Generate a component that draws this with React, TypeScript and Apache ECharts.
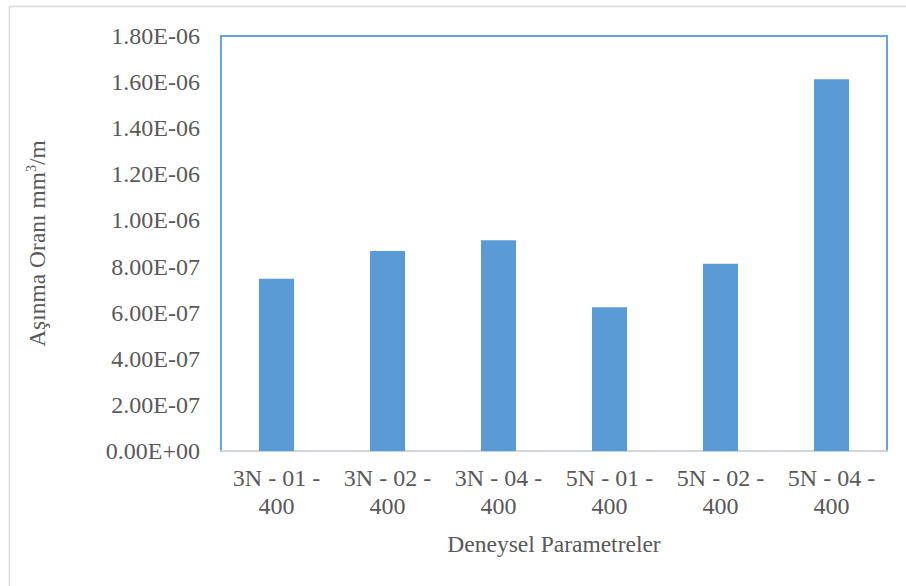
import React, { useEffect, useRef } from "react";
import * as echarts from "echarts";

// Wear rate per test parameter set (mm³/m)
const categories = [
  "3N - 01 -\n400",
  "3N - 02 -\n400",
  "3N - 04 -\n400",
  "5N - 01 -\n400",
  "5N - 02 -\n400",
  "5N - 04 -\n400",
];
const wearRate = [7.47e-7, 8.67e-7, 9.14e-7, 6.23e-7, 8.12e-7, 1.612e-6];

const yMin = 0;
const yMax = 1.8e-6;
const yStep = 2e-7;

const FONT = "Liberation Serif";
const TEXT = "#595959";
const BAR = "#5B9BD5";

// Excel-style scientific notation, e.g. 8.00E-07
function sci(v: number): string {
  if (Math.abs(v) < 1e-15) return "0.00E+00";
  const [m, e] = v.toExponential(2).split("e");
  const exp = parseInt(e, 10);
  const sign = exp < 0 ? "-" : "+";
  const digits = String(Math.abs(exp)).padStart(2, "0");
  return `${m}E${sign}${digits}`;
}

export default function App() {
  const ref = useRef<HTMLDivElement>(null);

  useEffect(() => {
    if (!ref.current) return;
    const chart = echarts.init(ref.current, undefined, { renderer: "svg" });
    chart.setOption({
      animation: false,
      backgroundColor: "#ffffff",
      textStyle: { fontFamily: FONT },
      graphic: [
        {
          type: "rect",
          shape: { x: 9.5, y: 6.5, width: 1000, height: 700 },
          style: { fill: "none", stroke: "#d9d9d9", lineWidth: 1.5 },
          silent: true,
          z: -1,
        },
      ],
      grid: {
        left: 221,
        right: 19,
        top: 36,
        bottom: 135,
        show: true,
        borderColor: "#6aa2da",
        borderWidth: 2,
        backgroundColor: "transparent",
      },
      xAxis: {
        type: "category",
        data: categories,
        name: "Deneysel Parametreler",
        nameLocation: "middle",
        nameGap: 81,
        nameTextStyle: { fontFamily: FONT, fontSize: 23.5, color: TEXT },
        axisLine: { show: true, lineStyle: { color: "#d0d5dc", width: 2 } },
        axisTick: { show: false },
        axisLabel: {
          fontFamily: FONT,
          fontSize: 24,
          color: TEXT,
          lineHeight: 28,
          margin: 13,
          interval: 0,
        },
      },
      yAxis: {
        type: "value",
        min: yMin,
        max: yMax,
        interval: yStep,
        name: "Aşınma Oranı mm{sup|3}/m",
        nameLocation: "middle",
        nameGap: 172,
        nameRotate: 90,
        nameTextStyle: {
          fontFamily: FONT,
          fontSize: 23.5,
          color: TEXT,
          rich: {
            sup: {
              fontFamily: FONT,
              fontSize: 14,
              color: TEXT,
              verticalAlign: "top",
              padding: [0, 0, 11, 0],
            },
          },
        },
        axisLine: { show: false },
        axisTick: { show: false },
        splitLine: { show: false },
        axisLabel: {
          fontFamily: FONT,
          fontSize: 24,
          color: TEXT,
          margin: 21,
          formatter: (v: number) => sci(v),
        },
      },
      series: [
        {
          type: "bar",
          data: wearRate,
          barWidth: 35,
          itemStyle: { color: BAR },
        },
      ],
    });
    return () => chart.dispose();
  }, []);

  return (
    <div
      ref={ref}
      style={{ position: "absolute", left: 0, top: 0, width: 906, height: 586 }}
    />
  );
}
